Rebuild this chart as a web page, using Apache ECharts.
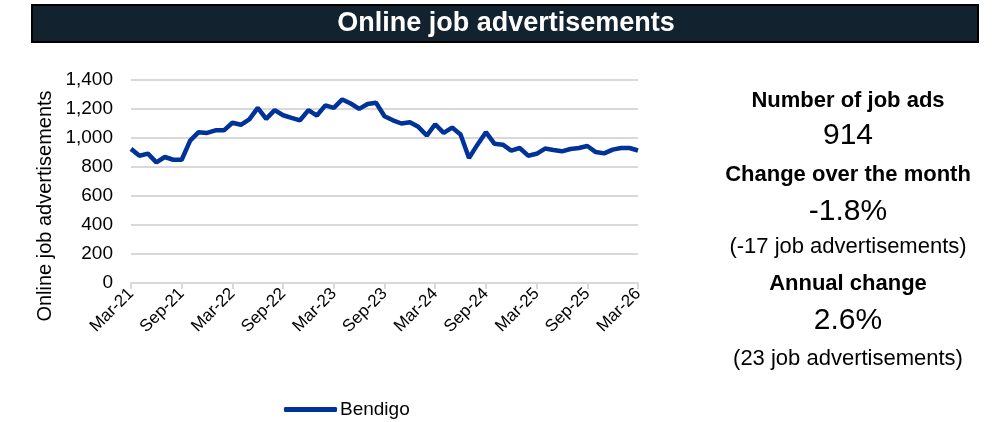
<!DOCTYPE html>
<html><head><meta charset="utf-8">
<script src="https://cdn.jsdelivr.net/npm/echarts@6/dist/echarts.min.js"></script>
<style>html,body{margin:0;padding:0;background:#fff}#c{width:992px;height:422px}</style>
</head><body><div id="c"></div>
<script>
const monthNames = ['Jan','Feb','Mar','Apr','May','Jun','Jul','Aug','Sep','Oct','Nov','Dec'];
const categories = [];
for (let k = 0; k < 61; k++) { const m = (2 + k) % 12; const y = 21 + Math.floor((2 + k) / 12); categories.push(monthNames[m] + '-' + y); }
const bendigo = [925,878,892,832,869,850,850,982,1040,1035,1053,1053,1105,1091,1128,1208,1132,1192,1157,1139,
1122,1192,1155,1225,1208,1266,1238,1201,1234,1243,1150,1122,1100,1109,1077,1017,1095,1035,1072,1024,
862,954,1040,961,954,913,931,878,891,927,917,908,924,931,945,903,894,920,931,931,914];
const titleText = 'Online job advertisements';
const yTitle = 'Online job advertisements';
const panelTexts = [
  ['Number of job ads', true, 22, 101],
  ['914', false, 30, 136],
  ['Change over the month', true, 22, 175],
  ['-1.8%', false, 30, 212],
  ['(-17 job advertisements)', false, 22, 247],
  ['Annual change', true, 22, 284],
  ['2.6%', false, 30, 321],
  ['(23 job advertisements)', false, 22, 359]
];
const FONT = '"Liberation Sans", Arial, sans-serif';
const chart = echarts.init(document.getElementById('c'));
const graphics = [
  {type:'rect', shape:{x:32,y:5,width:946,height:37}, style:{fill:'#13222f', stroke:'#000', lineWidth:2}},
  {type:'text', x:506, y:24, style:{text:titleText, fill:'#fff', font:'bold 27px ' + FONT, align:'center', verticalAlign:'middle'}},
  {type:'text', x:45, y:206, rotation:Math.PI/2, style:{text:yTitle, fill:'#000', font:'20px ' + FONT, align:'center', verticalAlign:'middle'}}
];
panelTexts.forEach(p => graphics.push({type:'text', x:848, y:p[3], style:{text:p[0], fill:'#000', font:(p[1]?'bold ':'') + p[2] + 'px ' + FONT, align:'center', verticalAlign:'middle'}}));
chart.setOption({
  animation:false,
  textStyle:{fontFamily:FONT},
  graphic:graphics,
  grid:{left:131, right:354, top:80, bottom:139, containLabel:false},
  legend:{top:395, left:279, itemWidth:53, itemHeight:5, icon:'roundRect', itemGap:10, textStyle:{fontSize:19, color:'#000', fontFamily:FONT, padding:[0,0,0,-2]}, data:['Bendigo']},
  xAxis:{type:'category', data:categories, boundaryGap:false,
    axisLine:{lineStyle:{color:'#d9d9d9', width:2}},
    axisTick:{interval:5, length:6, lineStyle:{color:'#d9d9d9', width:2}},
    axisLabel:{interval:5, rotate:45, fontSize:17, color:'#000', margin:8, fontFamily:FONT}},
  yAxis:{type:'value', min:0, max:1400, interval:200,
    axisLine:{show:false}, axisTick:{show:false},
    axisLabel:{fontSize:19, color:'#000', margin:18, fontFamily:FONT, formatter:v => v.toLocaleString('en-US')},
    splitLine:{lineStyle:{color:'#d9d9d9', width:2}}},
  series:[{name:'Bendigo', type:'line', data:bendigo, showSymbol:false, lineStyle:{color:'#003399', width:4.5}, itemStyle:{color:'#003399'}}]
});
</script></body></html>
